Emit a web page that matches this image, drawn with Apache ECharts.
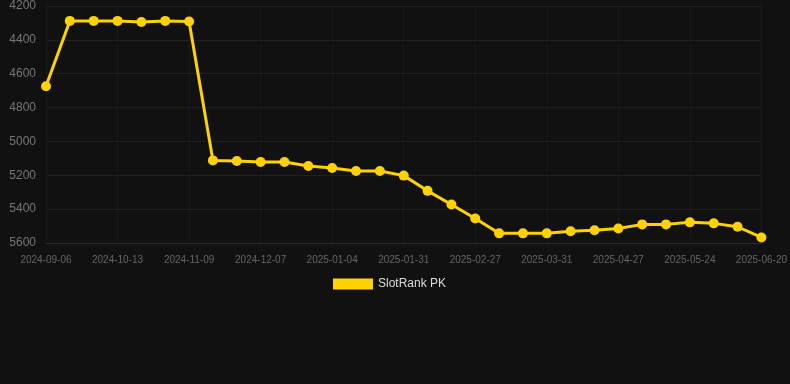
<!DOCTYPE html>
<html><head><meta charset="utf-8">
<script src="https://cdn.jsdelivr.net/npm/echarts@6/dist/echarts.min.js"></script>
<style>html,body{margin:0;padding:0;background:#111111;}#c{width:790px;height:384px;}</style>
</head><body><div id="c"></div>
<script>
const categories = ["2024-09-06","2024-09-18","2024-10-01","2024-10-13","2024-10-22","2024-10-31","2024-11-09","2024-11-18","2024-11-27","2024-12-07","2024-12-16","2024-12-25","2025-01-04","2025-01-13","2025-01-22","2025-01-31","2025-02-09","2025-02-18","2025-02-27","2025-03-09","2025-03-20","2025-03-31","2025-04-09","2025-04-18","2025-04-27","2025-05-06","2025-05-15","2025-05-24","2025-06-02","2025-06-11","2025-06-20"];
const rankValues = [4674,4288,4288,4288,4294,4288,4292,5112,5116,5122,5122,5145,5157,5175,5175,5202,5292,5373,5455,5543,5543,5543,5531,5525,5514,5490,5490,5478,5484,5504,5567];
const seriesName = "SlotRank PK";
const chart = echarts.init(document.getElementById('c'), null, {renderer:'canvas'});
chart.setOption({
  backgroundColor: '#111111',
  animation: false,
  grid: {left: 46, right: 28, top: 6, bottom: 141},
  legend: {
    data: [seriesName], bottom: 89, left: 328, icon: 'rect',
    itemWidth: 40, itemHeight: 11, itemGap: 10,
    textStyle: {color: '#dddddd', fontSize: 12}
  },
  xAxis: {
    type: 'category', data: categories, boundaryGap: false,
    axisLine: {show: true, lineStyle: {color: '#2a2a2a'}},
    axisTick: {show: false},
    axisLabel: {color: '#666666', fontSize: 10, interval: 2, margin: 12},
    splitLine: {show: true, interval: 2, lineStyle: {color: '#1a1a1a'}}
  },
  yAxis: {
    type: 'value', inverse: true, min: 4200, max: 5600, interval: 200,
    axisLine: {show: false}, axisTick: {show: false},
    axisLabel: {color: '#777777', fontSize: 12, margin: 10, formatter: v => String(v)},
    splitLine: {show: true, lineStyle: {color: '#202020'}}
  },
  series: [{
    name: seriesName, type: 'line', data: rankValues,
    symbol: 'circle', symbolSize: 10,
    itemStyle: {color: '#FFD200'},
    lineStyle: {color: '#FFD200', width: 3}
  }]
});
</script></body></html>
